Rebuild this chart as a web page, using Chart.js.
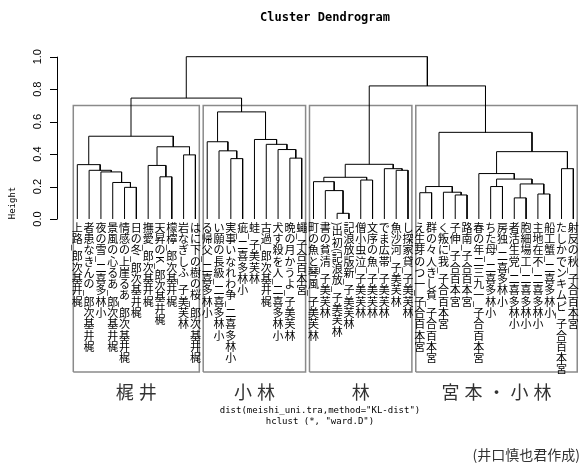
<!DOCTYPE html>
<html>
<head>
<meta charset="utf-8">
<script src="https://cdn.jsdelivr.net/npm/chart.js@4"></script>
<style>
  body { margin: 0; background: #fff; }
  canvas { display: block; }
</style>
</head>
<body>
<canvas id="dendro" width="584" height="468"></canvas>
<script>
// leaf labels, in plotted order (left to right)
const leafLabels = [
  "梶井基次郎_路上", "梶井基次郎_のんきな患者", "小林多喜二_雪の夜", "梶井基次郎_ある心の風景",
  "梶井基次郎_ある崖上の感情", "梶井基次郎_冬の日", "梶井基次郎_愛撫", "梶井基次郎_Kの昇天",
  "梶井基次郎_檸檬", "林芙美子_ふしぎな岩", "梶井基次郎_桜の樹の下には",
  "小林多喜二_父帰る", "小林多喜二_級長の願い", "小林多喜二_争われない事実", "小林多喜二_疵",
  "林芙美子_蛙", "梶井基次郎_過古", "小林多喜二_人を殺す犬", "林芙美子_ようか月の晩", "宮本百合子_蠅",
  "林芙美子_風琴と魚の町", "林芙美子_清貧の書", "林芙美子_放浪記(初出)", "林芙美子_新版放浪記",
  "林芙美子_泣虫小僧", "林芙美子_魚の序文", "林芙美子_帯広まで", "林芙美子_河沙魚", "林芙美子_貸家探し",
  "宮本百合子_一つの芽生え", "宮本百合子_貧しき人々の群", "宮本百合子_我に叛く", "宮本百合子_伸子",
  "宮本百合子_南路", "宮本百合子_一九三二年の春", "小林多喜二_母たち", "小林多喜二_独房",
  "小林多喜二_党生活者", "小林多喜二_工場細胞", "小林多喜二_不在地主", "小林多喜二_蟹工船",
  "宮本百合子_ピムキンでかした", "宮本百合子_秋の反射"
];

// merges like hclust$merge: negative = leaf number, positive = earlier merge
const mergePairs = [
  [-5, -6], [-4, 1], [-3, 2], [-2, 3], [-1, 4], [-8, -9], [-7, 6], [-10, -11], [7, 8], [5, 9],
  [-14, -15], [-13, 11], [-12, 12], [-19, -20], [-18, 14], [-17, 15], [-16, 16], [13, 17],
  [10, 18],
  [-23, -24], [-22, 20], [-21, 21], [-25, -26], [22, 23], [-28, -29], [-27, 25], [24, 26],
  [-30, -31], [-33, -34], [-32, 29], [28, 30], [-36, -37], [-38, -39], [-40, -41], [33, 34],
  [32, 35], [-35, 36], [-42, -43], [37, 38], [31, 39],
  [27, 40], [19, 41]
];
const mergeHeights = [
  0.195, 0.225, 0.29, 0.30, 0.335, 0.26, 0.33, 0.395, 0.445, 0.51,
  0.372, 0.42, 0.476, 0.375, 0.428, 0.46, 0.49, 0.66,
  0.745,
  0.035, 0.175, 0.23, 0.24, 0.257, 0.30, 0.31, 0.337,
  0.162, 0.148, 0.165, 0.20, 0.20, 0.13, 0.154, 0.216,
  0.246, 0.28, 0.31, 0.415, 0.534,
  0.82, 1.0
];

const yTicks = [0.0, 0.2, 0.4, 0.6, 0.8, 1.0];
const groupNames = ["梶井", "小林", "林", "宮本・小林"];
const groupSizes = [11, 9, 9, 14];
const cutHeight = 0.70;
const boxBottom = -0.943;

// position of every node: leaves at 1..n, merges at the middle of their children
const nodeX = [], nodeH = [];
function pos(id) {
  if (id < 0) return { x: -id, h: 0 };
  return { x: nodeX[id - 1], h: nodeH[id - 1] };
}

const datasets = [];
mergePairs.forEach((pair, i) => {
  const a = pos(pair[0]);
  const b = pos(pair[1]);
  const h = mergeHeights[i];
  nodeX.push((a.x + b.x) / 2);
  nodeH.push(h);
  datasets.push({
    data: [{ x: a.x, y: a.h }, { x: a.x, y: h }, { x: b.x, y: h }, { x: b.x, y: b.h }],
    borderColor: '#000',
    borderWidth: 1
  });
});

// rect.hclust style boxes
let start = 1;
groupSizes.forEach(n => {
  const left = start - 0.34, right = start + n - 1 + 0.33;
  datasets.push({
    data: [{ x: left, y: boxBottom }, { x: left, y: cutHeight }, { x: right, y: cutHeight },
           { x: right, y: boxBottom }, { x: left, y: boxBottom }],
    borderColor: '#8a8a8a',
    borderWidth: 1.5
  });
  start += n;
});

function drawVertical(ctx, text, x, y) {
  const chars = Array.from(text).reverse();
  chars.forEach(ch => {
    if (ch.charCodeAt(0) < 256) {
      const w = ctx.measureText(ch).width;
      ctx.save();
      ctx.translate(x, y + w / 2);
      ctx.rotate(Math.PI / 2);
      ctx.textAlign = 'center';
      ctx.textBaseline = 'middle';
      ctx.fillText(ch, 0, 0);
      ctx.restore();
      y += w;
    } else {
      ctx.textAlign = 'center';
      ctx.textBaseline = 'top';
      ctx.fillText(ch, x, y);
      y += 11.3;
    }
  });
}

const decorations = {
  id: 'decorations',
  afterDraw(chart) {
    const ctx = chart.ctx;
    const xs = chart.scales.x, ys = chart.scales.y;
    const area = chart.chartArea;
    ctx.save();

    // title
    ctx.fillStyle = '#000';
    ctx.font = 'bold 12px "DejaVu Sans Mono"';
    ctx.textAlign = 'center';
    ctx.textBaseline = 'middle';
    ctx.fillText('Cluster Dendrogram', 325, 18);

    // y axis
    const ax = area.left;
    ctx.strokeStyle = '#000';
    ctx.lineWidth = 1;
    ctx.beginPath();
    ctx.moveTo(ax + 0.5, ys.getPixelForValue(yTicks[0]));
    ctx.lineTo(ax + 0.5, ys.getPixelForValue(yTicks[yTicks.length - 1]));
    yTicks.forEach(t => {
      const py = Math.round(ys.getPixelForValue(t)) + 0.5;
      ctx.moveTo(ax - 7, py);
      ctx.lineTo(ax + 0.5, py);
    });
    ctx.stroke();
    ctx.font = '11px "Liberation Sans"';
    yTicks.forEach(t => {
      ctx.save();
      ctx.translate(38, ys.getPixelForValue(t));
      ctx.rotate(-Math.PI / 2);
      ctx.textAlign = 'center';
      ctx.textBaseline = 'middle';
      ctx.fillText(t.toFixed(1), 0, 0);
      ctx.restore();
    });
    ctx.save();
    ctx.translate(13, 203);
    ctx.rotate(-Math.PI / 2);
    ctx.font = '9px "DejaVu Sans Mono"';
    ctx.fillText('Height', 0, 0);
    ctx.restore();

    // leaf labels
    ctx.font = '11px "Noto Sans CJK JP"';
    ctx.fillStyle = '#000';
    leafLabels.forEach((lab, i) => {
      drawVertical(ctx, lab, xs.getPixelForValue(i + 1), ys.getPixelForValue(0) + 3);
    });

    // group names
    ctx.font = '18px "Noto Sans CJK JP"';
    ctx.fillStyle = '#333';
    ctx.textAlign = 'center';
    ctx.textBaseline = 'middle';
    let s = 1;
    groupSizes.forEach((n, g) => {
      const cx = xs.getPixelForValue((s - 0.34 + s + n - 1 + 0.33) / 2);
      const chars = Array.from(groupNames[g]);
      const pitch = 23;
      chars.forEach((ch, k) => {
        ctx.fillText(ch, cx + (k - (chars.length - 1) / 2) * pitch, 392);
      });
      s += n;
    });

    // axis titles
    ctx.fillStyle = '#000';
    ctx.font = '9px "DejaVu Sans Mono"';
    ctx.fillText('dist(meishi_uni.tra,method="KL-dist")', 320, 411);
    ctx.fillText('hclust (*, "ward.D")', 320, 422);

    // credit
    ctx.font = '14px "Noto Sans CJK JP"';
    ctx.fillStyle = '#333';
    ctx.textAlign = 'right';
    ctx.fillText('(井口慎也君作成)', 580, 455);
    ctx.restore();
  }
};

new Chart(document.getElementById('dendro'), {
  type: 'scatter',
  data: { datasets: datasets },
  options: {
    responsive: false,
    animation: false,
    devicePixelRatio: 1,
    showLine: true,
    elements: { point: { radius: 0 }, line: { tension: 0 } },
    layout: { padding: { left: 57, top: 43, right: 5, bottom: 88 } },
    plugins: { legend: { display: false }, tooltip: { enabled: false } },
    scales: {
      x: { type: 'linear', display: false, min: -0.719, max: 43.48 },
      y: { type: 'linear', display: false, min: -0.992, max: 1.0844 }
    }
  },
  plugins: [decorations]
});
</script>
</body>
</html>
